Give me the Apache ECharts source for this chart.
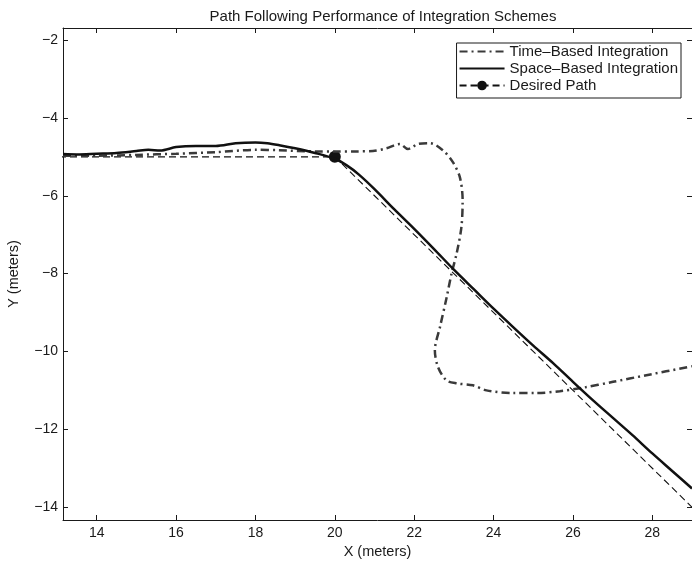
<!DOCTYPE html>
<html>
<head>
<meta charset="utf-8">
<script src="https://cdn.jsdelivr.net/npm/echarts@6/dist/echarts.min.js"></script>
<style>
  html, body { margin: 0; padding: 0; background: #fff; }
  #chart { width: 692px; height: 561px; }
</style>
</head>
<body>
<div id="chart"></div>
<script>
// Axis ranges and tick positions
const xRange = [13.15, 29];
const yRange = [-14.33, -1.69];
const xTicks = [14, 16, 18, 20, 22, 24, 26, 28];
const yTicks = [-14, -12, -10, -8, -6, -4, -2];

// Time-based integration trajectory (x, y)
const timeBasedX = [13.15, 14, 15, 16, 17, 18, 18.6, 19.5, 20, 20.5, 20.96, 21.3, 21.64, 21.84, 22.1, 22.4, 22.72, 22.97, 23.15, 23.22, 23.19, 23.07, 22.94, 22.82, 22.65, 22.52, 22.6, 22.81, 23.07, 23.48, 23.82, 24.49, 25.08, 25.67, 26.26, 27.01, 27.85, 29.0];
const timeBasedY = [-4.97, -4.97, -4.95, -4.92, -4.88, -4.82, -4.83, -4.86, -4.86, -4.86, -4.85, -4.78, -4.67, -4.8, -4.67, -4.65, -4.83, -5.13, -5.52, -6.11, -6.8, -7.48, -8.0, -8.6, -9.37, -9.97, -10.4, -10.74, -10.82, -10.87, -11.0, -11.07, -11.07, -11.02, -10.93, -10.78, -10.61, -10.38];

// Space-based integration trajectory (x, y)
const spaceBasedX = [13.15, 13.5, 14, 14.5, 15, 15.3, 15.6, 16, 16.5, 17, 17.5, 18, 18.3, 18.6, 19, 19.5, 20, 20.3, 20.6, 21, 21.5, 22, 22.5, 23, 23.5, 24, 24.5, 25, 25.5, 26, 26.5, 27, 27.5, 28, 28.5, 29];
const spaceBasedY = [-4.93, -4.94, -4.92, -4.9, -4.85, -4.82, -4.84, -4.75, -4.72, -4.72, -4.65, -4.63, -4.65, -4.7, -4.78, -4.9, -5.05, -5.22, -5.45, -5.83, -6.35, -6.85, -7.37, -7.9, -8.4, -8.9, -9.38, -9.85, -10.3, -10.78, -11.25, -11.7, -12.15, -12.62, -13.07, -13.52];

// Desired path vertices; only the corner at (20, -5) carries a marker
const desiredX = [10, 20, 30];
const desiredY = [-5, -5, -15];
const desiredMarked = [false, true, false];

const seriesNames = ['Time\u2013Based Integration', 'Space\u2013Based Integration', 'Desired Path'];

const zip = (xs, ys) => xs.map((x, i) => [x, ys[i]]);
const minusFmt = v => String(v).replace('-', '\u2212');
const FONT = 'Liberation Sans, Arial, sans-serif';
const INK = '#1a1a1a';

const chart = echarts.init(document.getElementById('chart'), null, { renderer: 'canvas' });

const baseX = {
  type: 'value', min: xRange[0], max: xRange[1],
  splitLine: { show: false },
  axisLine: { show: true, onZero: false, lineStyle: { color: INK, width: 1 } },
  axisTick: { show: true, inside: true, length: 5, customValues: xTicks, lineStyle: { color: INK } }
};
const baseY = {
  type: 'value', min: yRange[0], max: yRange[1],
  splitLine: { show: false },
  axisLine: { show: true, onZero: false, lineStyle: { color: INK, width: 1 } },
  axisTick: { show: true, inside: true, length: 5, customValues: yTicks, lineStyle: { color: INK } }
};

chart.setOption({
  animation: false,
  backgroundColor: '#fff',
  title: {
    text: 'Path Following Performance of Integration Schemes',
    left: 378, top: 4, textAlign: 'center',
    textStyle: { fontFamily: FONT, fontSize: 15, fontWeight: 'normal', color: INK }
  },
  grid: { left: 63, right: 0, top: 28, bottom: 41, outerBoundsMode: 'none', containLabel: false },
  legend: {
    orient: 'vertical',
    right: 11, top: 43,
    padding: [1, 3, 5, 2],
    borderColor: INK, borderWidth: 1,
    backgroundColor: '#fff',
    itemWidth: 45, itemHeight: 12, itemGap: 2,
    textStyle: { fontFamily: FONT, fontSize: 15, color: INK },
    data: [
      { name: seriesNames[0], itemStyle: { opacity: 0 } },
      { name: seriesNames[1], itemStyle: { opacity: 0 } },
      { name: seriesNames[2] }
    ]
  },
  xAxis: [
    Object.assign({}, baseX, {
      position: 'bottom',
      name: 'X (meters)', nameLocation: 'middle', nameGap: 21,
      nameTextStyle: { fontFamily: FONT, fontSize: 14.5, color: INK },
      axisLabel: { show: true, customValues: xTicks, margin: 6, fontFamily: FONT, fontSize: 14, color: INK, formatter: minusFmt }
    }),
    Object.assign({}, baseX, { position: 'top', axisLabel: { show: false } })
  ],
  yAxis: [
    Object.assign({}, baseY, {
      position: 'left',
      name: 'Y (meters)', nameLocation: 'middle', nameGap: 42,
      nameTextStyle: { fontFamily: FONT, fontSize: 14.5, color: INK },
      axisLabel: { show: true, customValues: yTicks, margin: 5, fontFamily: FONT, fontSize: 14, color: INK, formatter: minusFmt }
    }),
    Object.assign({}, baseY, { position: 'right', axisLabel: { show: false } })
  ],
  series: [
    {
      name: seriesNames[0], type: 'line', xAxisIndex: 0, yAxisIndex: 0,
      data: zip(timeBasedX, timeBasedY),
      showSymbol: false, symbol: 'none', smooth: 0.3,
      lineStyle: { color: '#3a3a3a', width: 2.5, type: [8, 4, 2, 4] },
      itemStyle: { color: '#3a3a3a' },
      z: 3
    },
    {
      name: seriesNames[1], type: 'line', xAxisIndex: 0, yAxisIndex: 0,
      data: zip(spaceBasedX, spaceBasedY),
      showSymbol: false, symbol: 'none', smooth: 0.3,
      lineStyle: { color: '#111', width: 2.5, type: 'solid' },
      itemStyle: { color: '#111' },
      z: 4
    },
    {
      name: seriesNames[2], type: 'line', xAxisIndex: 0, yAxisIndex: 0,
      data: desiredX.map((x, i) => ({
        value: [x, desiredY[i]],
        symbol: desiredMarked[i] ? 'circle' : 'none'
      })),
      symbol: 'circle', symbolSize: 12, showAllSymbol: true,
      lineStyle: { color: '#111', width: 1.1, type: [7, 4] },
      itemStyle: { color: '#111' },
      z: 2
    }
  ]
});
</script>
</body>
</html>
